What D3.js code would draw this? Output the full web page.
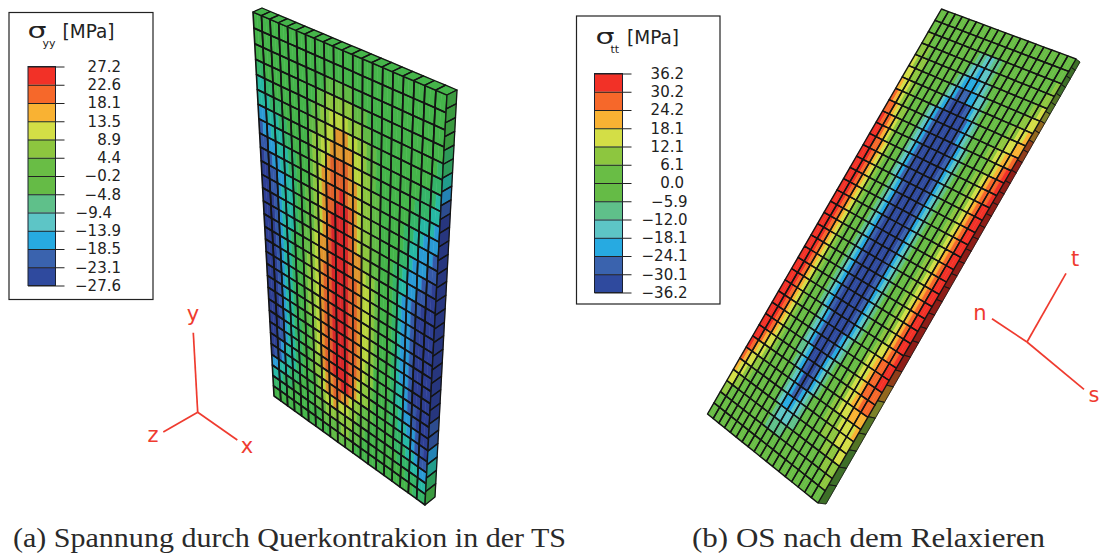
<!DOCTYPE html>
<html>
<head>
<meta charset="utf-8">
<title>Spannung</title>
<script src="https://cdn.jsdelivr.net/npm/d3@7"></script>
<style>
  html, body { margin: 0; background: #fff; }
  text { font-family: "DejaVu Sans", sans-serif; }
  .caption { font-family: "Liberation Serif", serif; font-size: 28px; fill: #2a2a2a; }
</style>
</head>
<body>
<svg width="1100" height="554"></svg>
<script>
  // legend colours, top of the scale is band 11
  var bandColors = ['#2f4a9e', '#3a63ae', '#27aae1', '#5dc5c6', '#5fc08a', '#65bb46', '#69bd45', '#8dc63f', '#d3de46', '#f9b233', '#f6682a', '#f23127'];
  // the left part is rendered a bit more saturated
  var leftBandColors = ['#2e3f94', '#3559a8', '#2a9ad5', '#27b8a4', '#35b568', '#45b54a', '#62bb46', '#8cc63f', '#b9d53e', '#e0962e', '#e0622b', '#d9282a'];

  var yyLabels = ['27.2', '22.6', '18.1', '13.5', '8.9', '4.4', '\u22120.2', '\u22124.8', '\u22129.4', '\u221213.9', '\u221218.5', '\u221223.1', '\u221227.6'];
  var ttLabels = ['36.2', '30.2', '24.2', '18.1', '12.1', '6.1', '0.0', '\u22125.9', '\u221212.0', '\u221218.1', '\u221224.1', '\u221230.1', '\u221236.2'];

  // band (0 = lowest band ... b = highest), two readings per element width
  var yyFront = [
    '5555555555 5555555555 5555555555 5555555555',
    '5555555555 5555555555 5555555555 5555555555',
    '5555555555 5555556666 6655555555 5555555555',
    '4455555555 5555667777 7766655555 5555555555',
    '3344555555 5556677888 8777665555 5555555554',
    '3334445555 5566778899 9887766555 5555555544',
    '2233344555 5567788999 9988766555 5555554443',
    '1223334455 556778 9aaa a988776555 5555544433',
    '1122333445 5567899aaa a998776655 5555443332',
    '0112233445 556789aaab a998776655 5554433222',
    '0011223345 566789aabb ba98776655 5554332221',
    '0011233345 566789abbb ba98776655 5544322211',
    '0001233345 566789abbb ba98776655 5443222110',
    '0001233345 667899abbb ba99776655 5433221100',
    '0001233455 667899abbb ba99877655 5432211000',
    '0001233455 67789aabbb baa9887655 5432210000',
    '0001233455 67789aabbb baa9887655 5432210000',
    '0001233455 67789aabbb baa9887655 5432210000',
    '0001233455 67789aabbb baa9887655 5432210000',
    '0001233455 67789aabbb baa9887655 5432210000',
    '0001233455 66789aabbb baa9887655 5432210000',
    '0001233445 56789aabbb baa9877555 5433210000',
    '0001233445 56789aabbb baa9877555 5433211000',
    '0011233445 56779aabbb ba98776555 5443221000',
    '0012333445 5677899aab ba98776555 5443322100',
    '0112333445 5567899aa9 9877666555 5544332110',
    '2233344455 5566788988 8776665555 5544433211',
    '3334445555 5566677777 7766655555 5554443322',
    '4444555555 5555666667 7666555555 5555544433',
    '5555555555 5555556666 6655555555 5555555444'
  ];
  var yyTop = '55555555555555555555';
  var yySide = '555544321000000000000000112345';

  var ttFront = [
    '666666666666666666 666666666666666666',
    '666666666666666655 556666666666666666',
    '776666666666655443 344556666666666667',
    '777666666666554332 334556666666666677',
    '877766666665543222 233455666666666778',
    '887766666655432111 223345566666667788',
    '988776666555321000 012345566666677889',
    'a98776666543210000 001234556666778899',
    'aa9877666543210000 00123455666778899a',
    'baa987666543210000 0001234556667789ab',
    'bba987666543210000 000123456667789aab',
    'bbaa98766543210000 000123456667789aab',
    'bbba98766543210000 000123456667789abb',
    'bbba98766654321000 000123456667789abb',
    'bbba98766654321000 000123456667789abb',
    'bbba98766654321000 000123456667789abb',
    'bbba98766654321000 000123456667789abb',
    'bbba98766654321000 000123456667789abb',
    'bbba98766654321000 000123456667789abb',
    'bbba98766654321000 000123456667789abb',
    'bbba98766654321000 000123456667789abb',
    'bbba98766654321000 000123456667789abb',
    'bbba98766654321000 000123456667789abb',
    'bbba98766654321000 000123456667789abb',
    'bbba98766665432100 000123456667889aab',
    'bbba98766665432100 00123456667889aabb',
    'bbba98766665432100 01123456667889aabb',
    'bbba98766665443200 01234566677889aaaa',
    'bba988766665543210 012345666778899aaa',
    'ba9887766666554320 012345666778889999',
    'a98877666666554321 123455666777788889',
    '988776666666554322 233455666677778888',
    '887766666666655433 334455666666777788',
    '776666666666655444 445556666666667777',
    '666666666666666555 555566666666666677',
    '666666666666666666 666666666666666666'
  ];
  var ttSide = '666677899aabbbbbbbbbbbbbbbbba9877666';

  var svg = d3.select('svg');
  var red = '#ef3b2f';

  // unit square -> quad, corners in order (0,0) (1,0) (1,1) (0,1)
  function quadMap(q) {
    var sx = q[0][0] - q[1][0] + q[2][0] - q[3][0];
    var sy = q[0][1] - q[1][1] + q[2][1] - q[3][1];
    var dx1 = q[1][0] - q[2][0], dx2 = q[3][0] - q[2][0];
    var dy1 = q[1][1] - q[2][1], dy2 = q[3][1] - q[2][1];
    var den = dx1 * dy2 - dx2 * dy1;
    var g = (sx * dy2 - dx2 * sy) / den;
    var h = (dx1 * sy - sx * dy1) / den;
    var a = q[1][0] - q[0][0] + g * q[1][0];
    var b = q[3][0] - q[0][0] + h * q[3][0];
    var d = q[1][1] - q[0][1] + g * q[1][1];
    var e = q[3][1] - q[0][1] + h * q[3][1];
    return function (u, v) {
      var w = g * u + h * v + 1;
      return [(a * u + b * v + q[0][0]) / w, (d * u + e * v + q[0][1]) / w];
    };
  }

  var band = function (ch) { return parseInt(ch, 12); };
  var outline = d3.line();

  // draws one face of a plate: colour patches first, then the element mesh on top
  function drawFace(source, quad, color, lineWidth, perElement) {
    var rows = source.map(function (s) { return s.replace(/ /g, ''); });
    var nRows = rows.length, nCols = rows[0].length;
    var uScale = d3.scaleLinear().domain([0, nCols]).range([0, 1]);
    var vScale = d3.scaleLinear().domain([0, nRows]).range([0, 1]);
    var map = quadMap(quad);
    var patch = function (c0, c1, r0, r1) {
      return outline([
        map(uScale(c0), vScale(r0)),
        map(uScale(c1), vScale(r0)),
        map(uScale(c1), vScale(r1)),
        map(uScale(c0), vScale(r1))
      ]) + 'Z';
    };
    var cells = [];
    rows.forEach(function (row, r) {
      row.split('').forEach(function (ch, c) {
        cells.push({ r: r, c: c, band: band(ch) });
      });
    });
    svg.append('g').selectAll('path').data(cells).join('path')
      .attr('d', function (d) { return patch(d.c, d.c + 1, d.r, d.r + 1); })
      .attr('fill', function (d) { return color(d.band); })
      .attr('stroke', function (d) { return color(d.band); })
      .attr('stroke-width', 0.5);

    var mesh = [];
    d3.range(nRows).forEach(function (r) {
      d3.range(0, nCols, perElement).forEach(function (c) {
        mesh.push({ r: r, c: c });
      });
    });
    svg.append('g').selectAll('path').data(mesh).join('path')
      .attr('d', function (d) { return patch(d.c, d.c + perElement, d.r, d.r + 1); })
      .attr('fill', 'none')
      .attr('stroke', '#141414')
      .attr('stroke-width', lineWidth)
      .attr('stroke-linejoin', 'round');
  }

  // left plate
  var leftColor = d3.scaleOrdinal().domain(d3.range(12)).range(leftBandColors);
  var leftSideColor = function (b) { return d3.color(leftColor(b)).darker(0.45).formatHex(); };
  drawFace(yyFront, [[253, 12], [447, 95], [425, 505], [274, 396]], leftColor, 1.6, 2);
  drawFace([yyTop], [[262, 8], [457, 90], [447, 95], [253, 12]], leftColor, 1.3, 1);
  drawFace(yySide.split(''), [[447, 95], [457, 90], [435, 497], [425, 505]], leftSideColor, 1.3, 1);

  // right plate
  var rightColor = d3.scaleOrdinal().domain(d3.range(12)).range(bandColors);
  var rightSideColor = function (b) { return d3.color(rightColor(b)).darker(1.5).formatHex(); };
  drawFace(ttSide.split(''), [[1076, 59], [1080, 62], [826, 504], [818, 503]], rightSideColor, 0.8, 1);
  drawFace(ttFront, [[941.5, 9], [1076, 59], [818, 503], [707.5, 414]], rightColor, 1.4, 2);

  // legend box with its colour bar and labels
  function drawLegend(o) {
    var g = svg.append('g');
    g.append('rect')
      .attr('x', o.box[0]).attr('y', o.box[1])
      .attr('width', o.box[2]).attr('height', o.box[3])
      .attr('fill', '#fff').attr('stroke', '#222').attr('stroke-width', 1.2);

    g.append('text').attr('x', o.titleX).attr('y', o.titleY).attr('fill', '#222')
      .attr('font-size', 22).attr('textLength', 19).attr('lengthAdjust', 'spacingAndGlyphs')
      .text('\u03c3');
    g.append('text').attr('x', o.titleX + o.subDx).attr('y', o.titleY + 9).attr('fill', '#222')
      .attr('font-size', 11).text(o.sub);
    g.append('text').attr('x', o.titleX + o.unitDx).attr('y', o.titleY + 0.5).attr('fill', '#222')
      .attr('font-size', 19.5).attr('textLength', 52).attr('lengthAdjust', 'spacingAndGlyphs')
      .text('[MPa]');

    var y = d3.scalePoint().domain(o.labels).range([o.barTop, o.barBottom]);
    var cells = d3.range(11, -1, -1);
    var yBand = d3.scaleBand().domain(cells).range([o.barTop, o.barBottom]);
    g.append('g').selectAll('rect').data(cells).join('rect')
      .attr('x', o.barX).attr('y', function (d) { return yBand(d); })
      .attr('width', o.barW).attr('height', yBand.bandwidth())
      .attr('fill', function (d) { return bandColors[d]; });
    g.append('rect')
      .attr('x', o.barX).attr('y', o.barTop)
      .attr('width', o.barW).attr('height', o.barBottom - o.barTop)
      .attr('fill', 'none').attr('stroke', '#1a2030').attr('stroke-width', 1);

    var axis = g.append('g')
      .attr('transform', 'translate(' + o.barX + ',0)')
      .call(d3.axisRight(y).tickSize(o.barW + 9).tickPadding(8));
    axis.select('.domain').remove();
    axis.selectAll('line').attr('stroke', '#222').attr('stroke-width', 1);
    axis.selectAll('text')
      .attr('x', function (d) { return o.labelRight - o.barX + o.nudge(d); })
      .attr('text-anchor', 'end')
      .attr('font-size', 15)
      .attr('font-family', '"DejaVu Sans", sans-serif')
      .attr('fill', '#222');
  }

  drawLegend({
    labels: yyLabels, sub: 'yy',
    box: [9, 12.5, 144, 287], titleX: 27.5, titleY: 37.5, subDx: 15, unitDx: 35,
    barX: 28, barW: 27.5, barTop: 66.5, barBottom: 285.5, labelRight: 121,
    nudge: function (d) { return d === '\u22129.4' ? -9 : 0; }
  });
  drawLegend({
    labels: ttLabels, sub: 'tt',
    box: [576.5, 16, 143.5, 288], titleX: 595.5, titleY: 43.5, subDx: 15, unitDx: 31.5,
    barX: 594.5, barW: 28, barTop: 73.5, barBottom: 292.5, labelRight: 684,
    nudge: function (d) { return d.charAt(0) === '\u2212' ? 3.5 : 0; }
  });

  // coordinate triads
  function drawTriad(origin, arms) {
    var g = svg.append('g');
    g.selectAll('line').data(arms).join('line')
      .attr('x1', origin[0]).attr('y1', origin[1])
      .attr('x2', function (d) { return d.end[0]; })
      .attr('y2', function (d) { return d.end[1]; })
      .attr('stroke', red).attr('stroke-width', 1.7);
    g.selectAll('text').data(arms).join('text')
      .attr('x', function (d) { return d.at[0]; })
      .attr('y', function (d) { return d.at[1]; })
      .attr('text-anchor', 'middle')
      .attr('font-size', 21)
      .attr('fill', red)
      .text(function (d) { return d.name; });
  }
  drawTriad([197.7, 412.3], [
    { name: 'y', end: [193.3, 332.7], at: [193, 321] },
    { name: 'z', end: [163.3, 432], at: [153, 442] },
    { name: 'x', end: [237.3, 440], at: [247, 453] }
  ]);
  drawTriad([1027, 342], [
    { name: 't', end: [1066, 273.3], at: [1075, 266] },
    { name: 'n', end: [992, 318.7], at: [980, 320] },
    { name: 's', end: [1084, 389.3], at: [1094, 402] }
  ]);

  svg.append('text').attr('class', 'caption').attr('x', 13).attr('y', 547)
    .attr('textLength', 553).attr('lengthAdjust', 'spacingAndGlyphs')
    .text('(a) Spannung durch Querkontrakion in der TS');
  svg.append('text').attr('class', 'caption').attr('x', 692).attr('y', 547)
    .attr('textLength', 353).attr('lengthAdjust', 'spacingAndGlyphs')
    .text('(b) OS nach dem Relaxieren');
</script>
</body>
</html>
